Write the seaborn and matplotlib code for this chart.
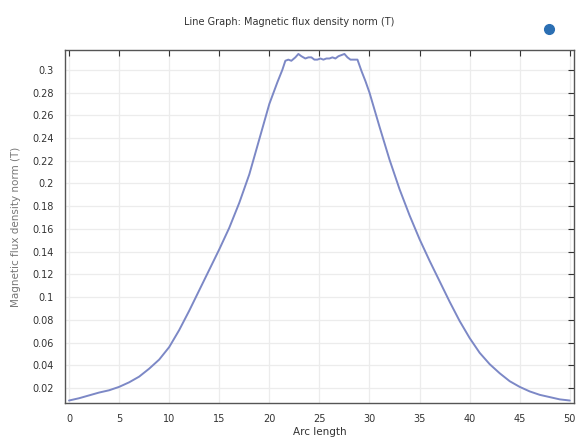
import numpy as np
import pandas as pd
import matplotlib
matplotlib.use("Agg")
import matplotlib.pyplot as plt
import seaborn as sns
from matplotlib.lines import Line2D
from matplotlib.ticker import FuncFormatter

# arc length along the line and the flux density norm
arc_length = [0, 1, 2, 3, 4, 5, 6, 7, 8, 9, 10, 11, 12, 13, 14, 15, 16, 17, 18, 19, 20,
              20.8, 21.3, 21.6, 21.9, 22.2, 22.6, 22.9, 23.2, 23.6, 23.9, 24.2, 24.5, 24.8,
              25.1, 25.4, 25.7, 26.0, 26.3, 26.6, 26.9, 27.2, 27.5, 27.8, 28.1, 28.5, 28.8,
              29.2, 29.6, 30, 31, 32, 33, 34, 35, 36, 37, 38, 39, 40, 41, 42, 43, 44, 45,
              46, 47, 48, 49, 50]
b_norm = [0.009, 0.011, 0.0135, 0.016, 0.018, 0.021, 0.025, 0.030, 0.037, 0.045, 0.056,
          0.071, 0.088, 0.106, 0.124, 0.142, 0.161, 0.183, 0.208, 0.239, 0.270,
          0.289, 0.300, 0.308, 0.309, 0.308, 0.311, 0.314, 0.312, 0.310, 0.311, 0.311,
          0.309, 0.309, 0.310, 0.309, 0.310, 0.310, 0.311, 0.310, 0.312, 0.313, 0.314,
          0.311, 0.309, 0.309, 0.309, 0.299, 0.290, 0.280, 0.250, 0.221, 0.195, 0.172,
          0.151, 0.132, 0.114, 0.096, 0.079, 0.064, 0.051, 0.041, 0.033, 0.026, 0.021,
          0.017, 0.014, 0.012, 0.010, 0.009]

x_ticks = list(range(0, 51, 5))
y_ticks = [0.02, 0.04, 0.06, 0.08, 0.1, 0.12, 0.14, 0.16, 0.18, 0.2, 0.22, 0.24, 0.26, 0.28, 0.3]

df = pd.DataFrame({"Arc length": arc_length, "B": b_norm})

sns.set_style("white")
plt.rcParams['font.family'] = ['DejaVu Sans']

fig = plt.figure(figsize=(5.79, 4.47), dpi=100)
ax = fig.add_axes([0.1123, 0.0984, 0.8787, 0.7898])

sns.lineplot(data=df, x="Arc length", y="B", ax=ax, color="#7c88c6", linewidth=1.4)

ax.set_xlim(-0.4, 50.4)
ax.set_ylim(0.0068, 0.3175)
ax.set_xticks(x_ticks)
ax.set_yticks(y_ticks)
ax.yaxis.set_major_formatter(FuncFormatter(lambda v, p: f"{v:g}"))
ax.grid(True, color="#ececec", linewidth=0.9)
ax.set_axisbelow(True)
ax.tick_params(direction="in", length=4, width=0.8, top=True, right=True,
               labelsize=7, colors="#333333", pad=8)
for s in ax.spines.values():
    s.set_color("#555555")
    s.set_linewidth(1.0)

ax.set_xlabel("Arc length", fontsize=7.5, color="#333333", labelpad=2)
ax.set_ylabel("Magnetic flux density norm (T)", fontsize=7.5, color="#777777", labelpad=8)
fig.text(0.5, 0.95, "Line Graph: Magnetic flux density norm (T)", ha="center", va="center",
         fontsize=7, color="#333333")

# little export icon in the upper right corner
fig.add_artist(Line2D([0.948], [0.935], transform=fig.transFigure, marker="o",
                      markersize=7, color="#2b6fb3", linestyle="none"))

fig.savefig("out.png", dpi=100)
